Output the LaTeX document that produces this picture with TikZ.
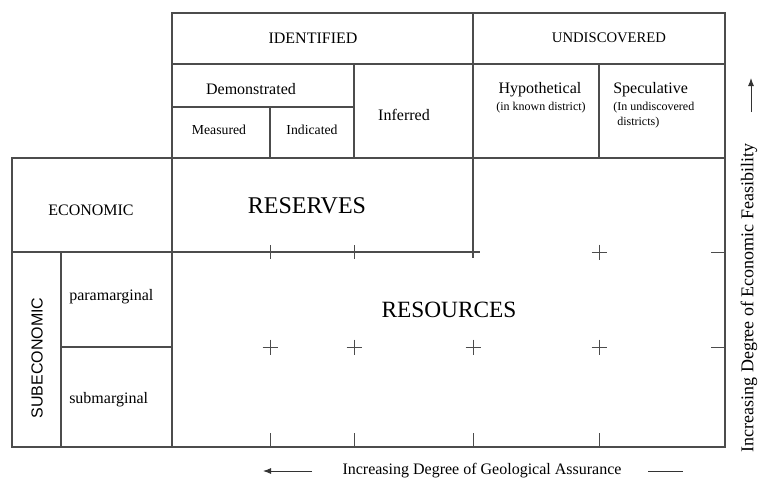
\documentclass[tikz,border=0pt]{standalone}
\usepackage{fontspec}
\setmainfont{Liberation Serif}
\newfontfamily\subfont{Liberation Sans}
\usepackage{tikz}
\usetikzlibrary{arrows.meta}

\begin{document}
\begin{tikzpicture}[x=0.75pt, y=-0.75pt,
    frame/.style={draw=black!70, line width=0.9pt},
    tick/.style={draw=black!70, line width=0.6pt},
    txt/.style={inner sep=0pt, font=\fontsize{12}{14}\selectfont},
    smalltxt/.style={inner sep=0pt, font=\fontsize{10.3}{12}\selectfont},
    tinytxt/.style={inner sep=0pt, align=left, font=\fontsize{9}{11.25}\selectfont},
    bigtxt/.style={inner sep=0pt, font=\fontsize{18}{20}\selectfont},
    axis/.style={draw=black!80, line width=0.7pt}]
    \useasboundingbox (0,0) rectangle (763,479);

    % Top table
    \draw[frame] (172,13) rectangle (725,158);
    \draw[frame] (172,64) -- (725,64);
    \draw[frame] (172,107) -- (354,107);
    \draw[frame] (473,13) -- (473,258);
    \draw[frame] (354,64) -- (354,158);
    \draw[frame] (270,107) -- (270,158);
    \draw[frame] (599,64) -- (599,158);

    % Main frame
    \draw[frame] (172,158) -- (12,158) -- (12,447) -- (725,447) -- (725,158);
    \draw[frame] (172,158) -- (172,447);
    \draw[frame] (12,252) -- (480,252);
    \draw[frame] (61,252) -- (61,447);
    \draw[frame] (61,347) -- (172,347);

    % Ticks on the reserves line
    \draw[tick] (270,245) -- (270,259);
    \draw[tick] (354,245) -- (354,259);
    \draw[tick] (591.5,252) -- (606.5,252) (599,244.5) -- (599,259.5);
    \draw[tick] (711,252) -- (725,252);

    % Crosses between paramarginal and submarginal
    \draw[tick] (262.5,347) -- (277.5,347) (270,339.5) -- (270,354.5);
    \draw[tick] (346.5,347) -- (361.5,347) (354,339.5) -- (354,354.5);
    \draw[tick] (465.5,347) -- (480.5,347) (473,339.5) -- (473,354.5);
    \draw[tick] (591.5,347) -- (606.5,347) (599,339.5) -- (599,354.5);
    \draw[tick] (711,347) -- (725,347);

    % Ticks on the bottom line
    \draw[tick] (270,433) -- (270,447);
    \draw[tick] (354,433) -- (354,447);
    \draw[tick] (473,433) -- (473,447);
    \draw[tick] (599,433) -- (599,447);

    % Column headings
    \node[txt] (identified) at (313,38) {IDENTIFIED};
    \node[txt, font=\fontsize{11}{13}\selectfont] (undiscovered) at (609,38) {UNDISCOVERED};
    \node[txt] (demonstrated) at (251,89) {Demonstrated};
    \node[smalltxt] (measured) at (219,130) {Measured};
    \node[smalltxt] (indicated) at (312,130) {Indicated};
    \node[txt] (inferred) at (404,115) {Inferred};
    \node[txt] (hypothetical) at (540,90) {Hypothetical};
    \node[tinytxt] (knowndist) at (541,108) {(in known district)};
    \node[txt, anchor=west] (speculative) at (613,90) {Speculative};
    \node[tinytxt, anchor=north west] (undistricts) at (613,102)
        {(In undiscovered\\\hspace*{3pt}districts)};

    % Row headings
    \node[txt] (economic) at (91,210) {ECONOMIC};
    \node[txt, font=\subfont\fontsize{12}{14}\selectfont, rotate=90] (subeconomic) at (37,358) {SUBECONOMIC};
    \node[txt, anchor=west] (paramarginal) at (69,297) {paramarginal};
    \node[txt, anchor=west] (submarginal) at (69,400) {submarginal};

    % Reserves and resources
    \node[bigtxt] (reserves) at (307,206) {RESERVES};
    \node[bigtxt, font=\fontsize{17.5}{20}\selectfont] (resources) at (449,310) {RESOURCES};

    % Axis labels
    \node[txt] (geoassur) at (482,471) {Increasing Degree of Geological Assurance};
    \node[txt, font=\fontsize{13.5}{15}\selectfont, rotate=90] (econfeas) at (749,298)
        {Increasing Degree of Economic Feasibility};
    \coordinate (geotail) at (312,471);
    \coordinate (geotip) at (263,471);
    \coordinate (geoleft) at (648,471);
    \coordinate (georight) at (683,471);
    \coordinate (econtail) at (751,112);
    \coordinate (econtip) at (751,78);
    \draw[axis, -{Latex[length=6pt,width=4.5pt]}] (geotail) -- (geotip);
    \draw[axis] (geoleft) -- (georight);
    \draw[axis, -{Latex[length=6pt,width=4.5pt]}] (econtail) -- (econtip);
\end{tikzpicture}
\end{document}
